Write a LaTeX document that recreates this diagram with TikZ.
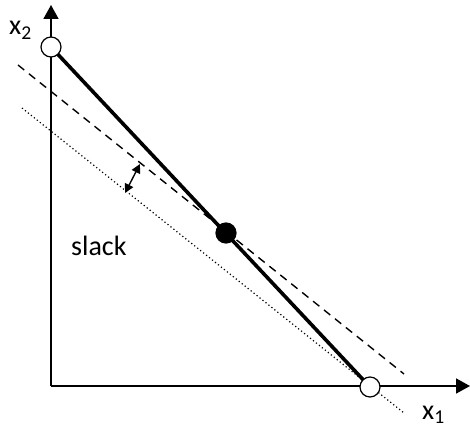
\documentclass[tikz,border=0pt]{standalone}
\usepackage{fontspec}
\setmainfont{Carlito}
\usetikzlibrary{arrows.meta,positioning,calc}

\begin{document}
\begin{tikzpicture}[
    x=1pt, y=-1pt,
    axis/.style={line width=1.7pt, -{Triangle[length=14pt,width=15pt]}},
    front/.style={line width=3.6pt},
    level/.style={line width=1.4pt, dash pattern=on 8pt off 6pt},
    shifted/.style={line width=1.2pt, dash pattern=on 1.2pt off 2.6pt},
    gap/.style={line width=1.4pt, {Triangle[length=9pt,width=9pt]}-{Triangle[length=9pt,width=9pt]}},
    vertex/.style={circle, draw, line width=1.2pt, fill=#1, minimum size=20pt, inner sep=0pt},
    lbl/.style={font=\fontsize{28}{30}\selectfont, inner sep=0pt, anchor=base west}
]
\useasboundingbox (0,0) rectangle (470,430);
% --- Axes ---
\coordinate (o) at (51,386);
\coordinate (xend) at (470,386);
\coordinate (yend) at (51,5);
\draw[axis] (o) -- (xend);
\draw[axis] (o) -- (yend);
\node[lbl] (xlbl) at (422,419) {x\textsubscript{1}};
\node[lbl] (ylbl) at (9,35) {x\textsubscript{2}};

% --- Constraint lines ---
\coordinate (a) at (51,47);
\coordinate (b) at (370,387);
\coordinate (c) at (226,233);
\coordinate (d1) at (18,65);
\coordinate (d2) at (404,374);
\coordinate (e1) at (22,108);
\coordinate (e2) at (404,413);
\draw[front] (a) -- (b);
\draw[level] (d1) -- (d2);
\draw[shifted] (e1) -- (e2);

% --- Slack ---
\coordinate (g1) at (140,164);
\coordinate (g2) at (125,193);
\draw[gap] (g1) -- (g2);
\node[lbl] (slack) at (71,255) {slack};

% --- Points ---
\node[vertex=white] (top) at (a) {};
\node[vertex=white] (bot) at (b) {};
\node[vertex=black] (opt) at (c) {};
\end{tikzpicture}
\end{document}
